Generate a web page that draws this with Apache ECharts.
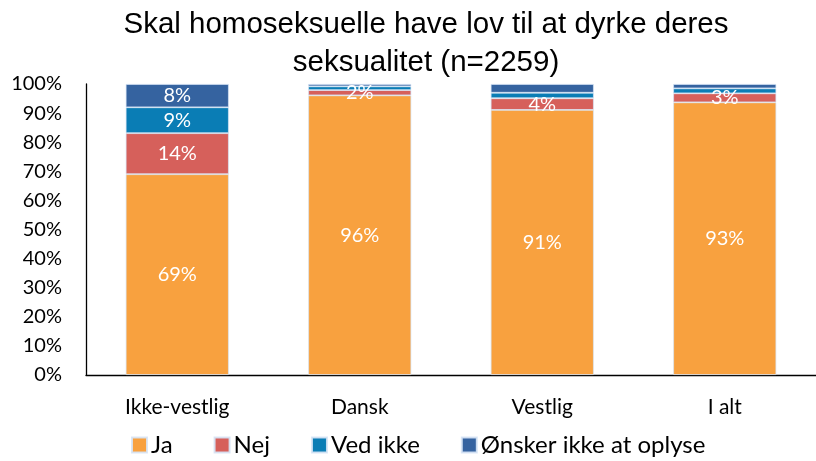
<!DOCTYPE html>
<html><head><meta charset="utf-8">
<script src="https://cdn.jsdelivr.net/npm/echarts@6/dist/echarts.min.js"></script>
<style>html,body{margin:0;padding:0;background:#fff}#c{width:816px;height:461px}</style>
</head><body><div id="c"></div>
<script>
const categories = ['Ikke-vestlig', 'Dansk', 'Vestlig', 'I alt'];
const ja = [69.0, 96.1, 91.1, 93.7];
const nej = [14.1, 1.8, 4.0, 3.1];
const vedIkke = [8.9, 1.3, 1.9, 1.7];
const onsker = [8.0, 0.8, 3.0, 1.5];
const jaLabels = ['69%', '96%', '91%', '93%'];
const nejLabels = ['14%', '2%', '4%', '3%'];
const vedLabels = ['9%', '', '', ''];
const onsLabels = ['8%', '', '', ''];
const yTicks = [0, 10, 20, 30, 40, 50, 60, 70, 80, 90, 100];

const colors = ['#F8A13F', '#D6605B', '#0A7DB5', '#3563A0'];
const lblFont = 'Lato, "Noto Sans", sans-serif';
function mk(name, vals, labels, color) {
  return {
    name, type: 'bar', stack: 'a', barWidth: '56.5%',
    data: vals,
    itemStyle: { color, borderColor: 'rgba(215,228,245,0.9)', borderWidth: 0.8 },
    label: {
      show: true, position: 'inside', color: '#fff', fontSize: 20, fontFamily: lblFont,
      formatter: p => labels[p.dataIndex]
    }
  };
}
const chart = echarts.init(document.getElementById('c'));
chart.setOption({
  animation: false,
  title: {
    text: 'Skal homoseksuelle have lov til at dyrke deres\nseksualitet (n=2259)',
    left: 421, textAlign: 'center', top: 1,
    textStyle: { fontFamily: '"Liberation Sans", Arial, sans-serif', fontWeight: 'normal', fontSize: 29.5, lineHeight: 38, color: '#000' }
  },
  legend: {
    top: 428, left: 126, itemWidth: 15, itemHeight: 15, itemGap: 41, icon: 'rect',
    textStyle: { fontFamily: lblFont, fontSize: 24, color: '#000', padding: [0, 0, 0, -1] },
    data: ['Ja', 'Nej', 'Ved ikke', 'Ønsker ikke at oplyse']
  },
  grid: { left: 86, right: -14, top: 84, bottom: 86 },
  xAxis: {
    type: 'category', data: categories,
    axisLine: { lineStyle: { color: '#000', width: 1.3 } },
    axisTick: { show: false },
    axisLabel: { color: '#000', fontSize: 21, fontFamily: lblFont, margin: 22 }
  },
  yAxis: {
    type: 'value', min: 0, max: 100, interval: 10,
    axisLine: { show: true, lineStyle: { color: '#000', width: 1.3 } },
    axisTick: { show: false },
    splitLine: { show: false },
    axisLabel: { color: '#000', fontSize: 20, fontFamily: lblFont, margin: 24, padding: [10, 0, 0, 0],
      formatter: v => yTicks.includes(v) ? v + '%' : '' }
  },
  series: [
    mk('Ja', ja, jaLabels, colors[0]),
    mk('Nej', nej, nejLabels, colors[1]),
    mk('Ved ikke', vedIkke, vedLabels, colors[2]),
    mk('Ønsker ikke at oplyse', onsker, onsLabels, colors[3])
  ]
});
</script></body></html>
